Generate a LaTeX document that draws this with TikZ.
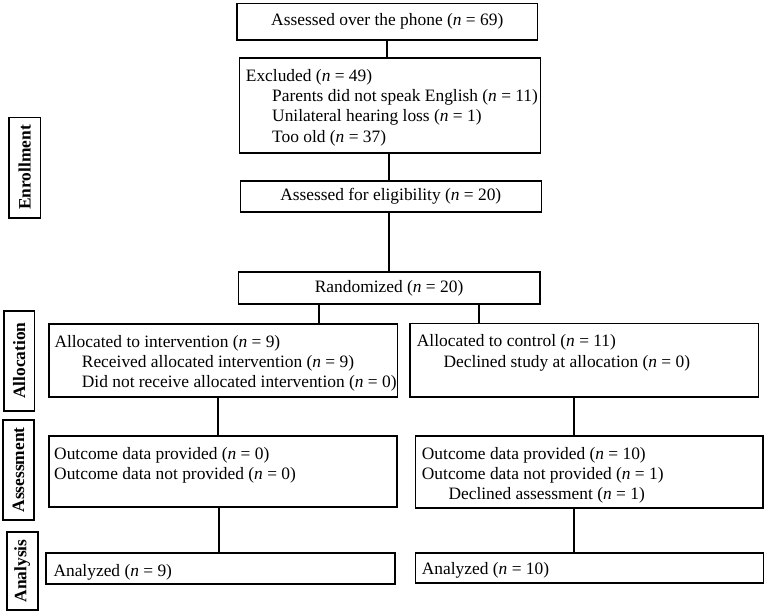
\documentclass[tikz,border=0pt]{standalone}
\usepackage{fontspec}
\setmainfont{Liberation Serif}
\newcommand{\myfs}{\fontsize{17.4}{20}\selectfont}
\newcommand{\nn}{\textit{n}}
\begin{document}
\begin{tikzpicture}[x=1pt,y=-1pt,
  box/.style={draw, line width=1.6pt, inner sep=0pt, font=\myfs},
  txt/.style={anchor=base west, inner sep=0pt, font=\myfs},
  side/.style={draw, line width=1.6pt, rotate=90, inner sep=0pt, font=\myfs\bfseries},
  conn/.style={line width=1.8pt}]
\useasboundingbox (0,0) rectangle (767,614);
% side labels
\node[side, minimum width=100.4, minimum height=31.3] (lenr) at (24.7,167.5) {Enrollment};
\node[side, minimum width=100, minimum height=30.3] (lall) at (19.2,360.7) {Allocation};
\node[side, minimum width=100, minimum height=31] (lass) at (18.5,470) {Assessment};
\node[side, minimum width=78.3, minimum height=31] (lana) at (22.2,571) {Analysis};
% boxes
\node[box, minimum width=300.5, minimum height=36.5] (b1) at (387.25,21.75) {Assessed over the phone (\nn{} = 69)};
\node[box, minimum width=301, minimum height=94.7] (b2) at (389.8,105.35) {};
\node[box, minimum width=301, minimum height=30.7] (b3) at (390.8,196.35) {Assessed for eligibility (\nn{} = 20)};
\node[box, minimum width=301.2, minimum height=32.3] (b4) at (389.1,287.85) {Randomized (\nn{} = 20)};
\node[box, minimum width=348.3, minimum height=72.7] (aL) at (223.15,360.35) {};
\node[box, minimum width=348.3, minimum height=73.4] (aR) at (584.15,360) {};
\node[box, minimum width=347.7, minimum height=71] (sL) at (222.85,471.5) {};
\node[box, minimum width=347.4, minimum height=72] (sR) at (589,472) {};
\node[box, minimum width=349.3, minimum height=31.3] (nL) at (220.35,568.35) {};
\node[box, minimum width=348, minimum height=30] (nR) at (589.3,567.7) {};
% texts
\node[txt] (e1) at (245.7,81) {Excluded (\nn{} = 49)};
\node[txt] (e2) at (272,101.7) {Parents did not speak English (\nn{} = 11)};
\node[txt] (e3) at (272,121.7) {Unilateral hearing loss (\nn{} = 1)};
\node[txt] (e4) at (272,142) {Too old (\nn{} = 37)};
\node[txt] (al1) at (54.3,347.7) {Allocated to intervention (\nn{} = 9)};
\node[txt] (al2) at (81.7,367.7) {Received allocated intervention (\nn{} = 9)};
\node[txt] (al3) at (81.7,387.7) {Did not receive allocated intervention (\nn{} = 0)};
\node[txt] (ar1) at (416.7,346.7) {Allocated to control (\nn{} = 11)};
\node[txt] (ar2) at (443.3,367) {Declined study at allocation (\nn{} = 0)};
\node[txt] (sl1) at (54,459.3) {Outcome data provided (\nn{} = 0)};
\node[txt] (sl2) at (54,479.3) {Outcome data not provided (\nn{} = 0)};
\node[txt] (sr1) at (421.7,459.3) {Outcome data provided (\nn{} = 10)};
\node[txt] (sr2) at (421.7,479.3) {Outcome data not provided (\nn{} = 1)};
\node[txt] (sr3) at (448.3,499.3) {Declined assessment (\nn{} = 1)};
\node[txt] (nl1) at (53.3,576) {Analyzed (\nn{} = 9)};
\node[txt] (nr1) at (421.7,574.3) {Analyzed (\nn{} = 10)};
% connectors
\coordinate (k1) at (387,0);
\coordinate (k2) at (389,0);
\coordinate (k3) at (389,0);
\coordinate (k4) at (319,0);
\coordinate (k5) at (479,0);
\coordinate (k6) at (218,0);
\coordinate (k7) at (574,0);
\coordinate (k8) at (219,0);
\coordinate (k9) at (574,0);
\draw[conn] (b1.south -| k1) -- (b2.north -| k1);
\draw[conn] (b2.south -| k2) -- (b3.north -| k2);
\draw[conn] (b3.south -| k3) -- (b4.north -| k3);
\draw[conn] (b4.south -| k4) -- (aL.north -| k4);
\draw[conn] (b4.south -| k5) -- (aR.north -| k5);
\draw[conn] (aL.south -| k6) -- (sL.north -| k6);
\draw[conn] (aR.south -| k7) -- (sR.north -| k7);
\draw[conn] (sL.south -| k8) -- (nL.north -| k8);
\draw[conn] (sR.south -| k9) -- (nR.north -| k9);
\end{tikzpicture}
\end{document}
